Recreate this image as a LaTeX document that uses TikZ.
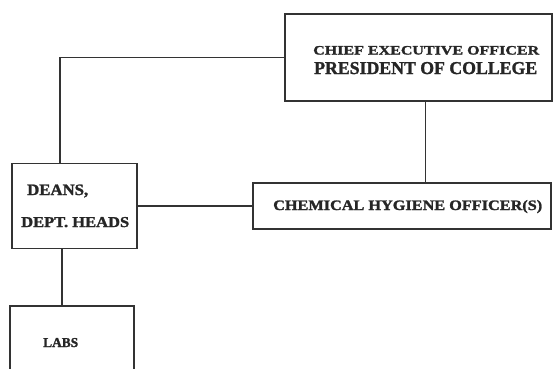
\documentclass[tikz,border=0pt]{standalone}
\usepackage{fontspec}
\setmainfont[BoldFeatures={FakeBold=1.5}]{Liberation Serif}
\usepackage{graphicx}
\newcommand{\fitt}[3]{\resizebox{#1pt}{#2pt}{\bfseries #3}}
\begin{document}
\begin{tikzpicture}[x=1pt,y=-1pt,
  box/.style={draw=black!80, line width=1.5pt, fill=white, inner sep=0pt},
  conn/.style={draw=black!80, line width=1.5pt},
  lbl/.style={inner sep=0pt, anchor=base west, text=black!85}]
\useasboundingbox (0,0) rectangle (553,368);
\node[box, minimum width=267pt, minimum height=87pt] (ceo) at (418.5,57.5) {};
\node[box, minimum width=125pt, minimum height=85pt] (deans) at (74.5,206) {};
\node[box, minimum width=298pt, minimum height=46pt] (cho) at (402,206) {};
\node[box, minimum width=124pt, minimum height=68pt] (labs) at (72,340) {};
\draw[conn] (ceo.west) -| ([xshift=-14.5pt]deans.north);
\draw[conn] ([xshift=7pt]ceo.south) -- ([xshift=7pt]ceo.south |- cho.north);
\draw[conn] (deans.east) -- (cho.west);
\draw[conn] ([xshift=-12.5pt]deans.south) -- ([xshift=-12.5pt]deans.south |- labs.north);
\node[lbl] (t1) at (313,54.5) {\fitt{226}{8.5}{CHIEF EXECUTIVE OFFICER}};
\node[lbl] (t2) at (314,74) {\fitt{223}{12}{PRESIDENT OF COLLEGE}};
\node[lbl] (t3) at (27,195) {\fitt{61}{10.5}{DEANS,}};
\node[lbl] (t4) at (21,227) {\fitt{108}{10}{DEPT. HEADS}};
\node[lbl] (t5) at (273,210) {\fitt{269}{10}{CHEMICAL HYGIENE OFFICER(S)}};
\node[lbl] (t6) at (43,347) {\fitt{35}{9}{LABS}};
\end{tikzpicture}
\end{document}
